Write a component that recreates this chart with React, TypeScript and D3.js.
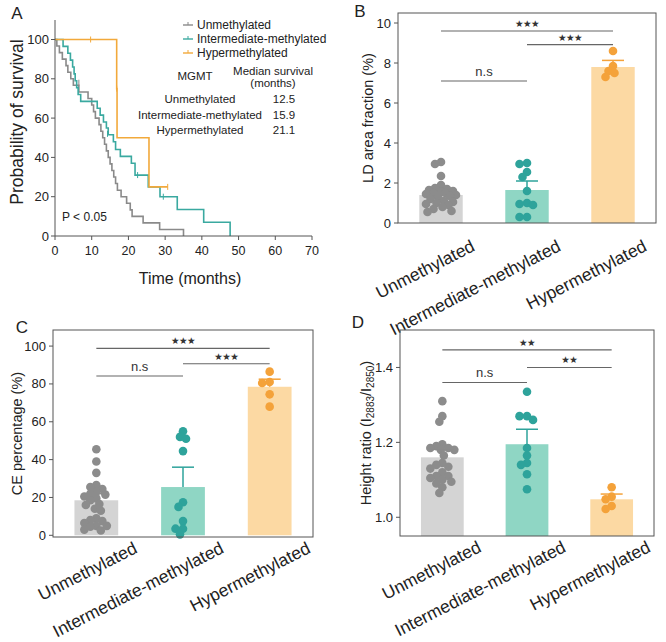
import React from 'react';
import * as d3 from 'd3';

const FONT = "'Liberation Sans', Arial, Helvetica, sans-serif";

// ---------- Panel A: Kaplan–Meier ----------
const kmTicksX = [0, 10, 20, 30, 40, 50, 60, 70];
const kmTicksY = [0, 20, 40, 60, 80, 100];

const unmethTimes = [0.5, 1.2, 2, 3, 3.5, 4.3, 5, 6.5, 9, 10, 10.5, 11, 12, 12.5, 13, 13.5, 14, 14.5, 15, 15.5, 16, 16.5, 17, 18, 19.5, 20.5, 21, 24, 28.5, 35];
const unmethSurv = [96.7, 93.3, 90, 86.7, 83.3, 80, 76.7, 73.3, 70, 66.7, 63.3, 60, 56.7, 53.3, 50, 46.7, 43.3, 40, 36.7, 33.3, 30, 26.7, 23.3, 20, 16.7, 13.3, 10, 6.7, 3.3, 0];
const unmethCensor = [[6.5, 78], [19.5, 18]];

const interTimes = [2.2, 3.5, 4.2, 4.8, 5.2, 5.5, 5.9, 6.3, 7.0, 11.5, 12.3, 13.2, 14.0, 14.5, 15.9, 16.5, 17.8, 20.8, 21.8, 25.4, 28.6, 33.3, 40.5, 47.7];
const interSurv = [96.5, 93, 89.5, 86, 82.5, 79, 75.5, 72, 68.5, 65, 61.5, 58, 55, 51.5, 48, 44, 40.5, 37, 31, 25, 20, 13.5, 7, 0];
const interCensor = [[14.3, 52], [22.5, 31], [29.5, 20]];

const hyperTimes = [16.8, 16.9, 25.6];
const hyperSurv = [75, 50, 25];
const hyperEnd = 30.7;
const hyperCensor = [[9.7, 100], [16.8, 75], [30.7, 25]];

const groupNames = ['Unmethylated', 'Intermediate-methylated', 'Hypermethylated'];
const medianSurvival = ['12.5', '15.9', '21.1'];

const kmColors = ['#8a8a8a', '#3aa9a0', '#f2a93b'];

// ---------- Panel B: LD area fraction ----------
const ldTicks = [0, 2, 4, 6, 8, 10];
const ldMeans = [1.4, 1.65, 7.8];
const ldSE = [0.12, 0.45, 0.33];
const ldUnmeth = [3.05, 2.95, 2.35, 1.9, 1.75, 1.7, 1.65, 1.6, 1.55, 1.5, 1.5, 1.45, 1.4, 1.35, 1.3, 1.2, 1.1, 1.05, 1.0, 0.95, 0.9, 0.8, 0.7, 0.6, 0.55];
const ldInter = [3.0, 2.95, 2.55, 2.3, 1.6, 1.0, 0.95, 0.9, 0.3, 0.3];
const ldHyper = [8.6, 7.85, 7.6, 7.5, 7.3];
const ldSig = [
  { a: 0, b: 2, y: 9.6, label: '★★★' },
  { a: 1, b: 2, y: 8.92, label: '★★★' },
  { a: 0, b: 1, y: 7.1, label: 'n.s' },
];

// ---------- Panel C: CE percentage ----------
const ceTicks = [0, 20, 40, 60, 80, 100];
const ceMeans = [18.5, 25.5, 78.5];
const ceSE = [3.5, 10.5, 4];
const ceUnmeth = [45.5, 39, 33, 26.5, 25.5, 24.5, 23, 22, 21.5, 20.5, 19.5, 18.5, 16.5, 16, 14, 13, 9, 8, 7.5, 6.5, 5, 5, 4.5, 3, 2.5];
const ceInter = [55, 52, 51, 44.5, 17.5, 15, 7.5, 3.5, 3.5, 0.5];
const ceHyper = [86.5, 81, 80.5, 74.5, 68];
const ceSig = [
  { a: 0, b: 2, y: 98.8, label: '★★★' },
  { a: 1, b: 2, y: 90.7, label: '★★★' },
  { a: 0, b: 1, y: 84.2, label: 'n.s' },
];

// ---------- Panel D: Height ratio ----------
const hrTicks = [1.0, 1.2, 1.4];
const hrMeans = [1.16, 1.195, 1.048];
const hrSE = [0.022, 0.04, 0.014];
const hrUnmeth = [1.31, 1.27, 1.255, 1.195, 1.19, 1.185, 1.185, 1.18, 1.18, 1.165, 1.145, 1.14, 1.135, 1.13, 1.12, 1.11, 1.11, 1.105, 1.1, 1.095, 1.09, 1.08, 1.065];
const hrInter = [1.335, 1.27, 1.27, 1.26, 1.185, 1.165, 1.145, 1.14, 1.115, 1.075];
const hrHyper = [1.08, 1.055, 1.048, 1.03, 1.022];
const hrSig = [
  { a: 0, b: 2, y: 1.447, label: '★★' },
  { a: 1, b: 2, y: 1.4, label: '★★' },
  { a: 0, b: 1, y: 1.36, label: 'n.s' },
];

const barFill = ['#d4d4d4', '#8fd6c4', '#fcd9a3'];
const dotFill = ['#8c8c8c', '#2ea39b', '#f4a23a'];
const axisColor = '#555';
const textColor = '#222';

function swarm(values: number[], y: (v: number) => number, cx: number, minDist: number, maxOff: number) {
  const order = values.map((_, i) => i).sort((a, b) => values[b] - values[a]);
  const placed: { x: number; y: number }[] = [];
  const out: { x: number; y: number }[] = new Array(values.length);
  const stepPx = 1.5;
  const nSteps = Math.ceil(maxOff / stepPx) * 2;
  for (const i of order) {
    const py = y(values[i]);
    let best = 0;
    let bestScore = -1;
    for (let k = 0; k <= nSteps; k++) {
      const off = (k % 2 === 0 ? 1 : -1) * Math.ceil(k / 2) * stepPx;
      let md = Infinity;
      for (const p of placed) md = Math.min(md, Math.hypot(p.x - (cx + off), p.y - py));
      if (md >= minDist) { best = off; bestScore = md; break; }
      if (md > bestScore) { bestScore = md; best = off; }
    }
    const pt = { x: cx + best, y: py };
    placed.push(pt);
    out[i] = pt;
  }
  return out;
}

function KMPanel() {
  const x = d3.scaleLinear().domain([0, 70]).range([55, 312]);
  const y = d3.scaleLinear().domain([0, 100]).range([236, 39.5]);
  const line = d3.line<[number, number]>().x(d => x(d[0])).y(d => y(d[1])).curve(d3.curveStepAfter);
  const series = [
    { t: unmethTimes, s: unmethSurv, end: unmethTimes[unmethTimes.length - 1], c: unmethCensor },
    { t: interTimes, s: interSurv, end: interTimes[interTimes.length - 1], c: interCensor },
    { t: hyperTimes, s: hyperSurv, end: hyperEnd, c: hyperCensor },
  ];
  return (
    <g>
      <text x={17} y={19} fontSize={17} fill={textColor} textAnchor="middle">A</text>
      {series.map((se, i) => {
        const pts: [number, number][] = [[0, 100]];
        se.t.forEach((t, j) => pts.push([t, se.s[j]]));
        if (se.end > se.t[se.t.length - 1]) pts.push([se.end, se.s[se.s.length - 1]]);
        return (
          <g key={i}>
            <path d={line(pts) || ''} fill="none" stroke={kmColors[i]} strokeWidth={1.6} />
            {se.c.map((c, k) => (
              <line key={k} x1={x(c[0])} x2={x(c[0])} y1={y(c[1]) - 3} y2={y(c[1]) + 3} stroke={kmColors[i]} strokeWidth={1} />
            ))}
          </g>
        );
      })}
      {/* axes */}
      <line x1={55} x2={55} y1={20} y2={236} stroke={axisColor} strokeWidth={1} />
      <line x1={55} x2={312} y1={236} y2={236} stroke={axisColor} strokeWidth={1} />
      {kmTicksY.map(t => (
        <g key={t}>
          <line x1={51} x2={55} y1={y(t)} y2={y(t)} stroke={axisColor} />
          <text x={49} y={y(t)} fontSize={13} fill={textColor} textAnchor="end" dominantBaseline="central">{t}</text>
        </g>
      ))}
      {kmTicksX.map(t => (
        <g key={t}>
          <line x1={x(t)} x2={x(t)} y1={236} y2={240} stroke={axisColor} />
          <text x={x(t)} y={251} fontSize={12.5} fill={textColor} textAnchor="middle" dominantBaseline="central">{t}</text>
        </g>
      ))}
      <text transform="translate(17,122) rotate(-90)" fontSize={17.5} fill={textColor} textAnchor="middle" dominantBaseline="central">Probability of survival</text>
      <text x={190} y={278} fontSize={16} fill={textColor} textAnchor="middle" dominantBaseline="central">Time (months)</text>
      {/* legend */}
      {groupNames.map((g, i) => (
        <g key={g}>
          <line x1={183} x2={193} y1={25 + i * 14} y2={25 + i * 14} stroke={kmColors[i]} strokeWidth={1.4} />
          <line x1={188} x2={188} y1={22 + i * 14} y2={25 + i * 14} stroke={kmColors[i]} strokeWidth={1} />
          <text x={197} y={25 + i * 14} fontSize={12} fill={textColor} dominantBaseline="central">{g}</text>
        </g>
      ))}
      <text x={195} y={76} fontSize={11.5} fill={textColor} textAnchor="middle" dominantBaseline="central">MGMT</text>
      <text x={273} y={71} fontSize={11.5} fill={textColor} textAnchor="middle" dominantBaseline="central">Median survival</text>
      <text x={273} y={83} fontSize={11.5} fill={textColor} textAnchor="middle" dominantBaseline="central">(months)</text>
      {groupNames.map((g, i) => (
        <g key={g}>
          <text x={200} y={99 + i * 15.5} fontSize={11.5} fill={textColor} textAnchor="middle" dominantBaseline="central">{g}</text>
          <text x={284} y={99 + i * 15.5} fontSize={11.5} fill={textColor} textAnchor="middle" dominantBaseline="central">{medianSurvival[i]}</text>
        </g>
      ))}
      <text x={62} y={217} fontSize={12} fill={textColor} dominantBaseline="central">P &lt; 0.05</text>
    </g>
  );
}

type Sig = { a: number; b: number; y: number; label: string };

function BarPanel(props: {
  left: number; right: number; top: number; bottom: number;
  domain: [number, number]; ticks: number[]; fmt: (v: number) => string;
  means: number[]; ses: number[]; points: number[][]; sig: Sig[];
  yLabel: React.ReactNode; yLabelX: number; letter: string; letterX: number; letterY: number;
  labDx: number; labDy: number;
}) {
  const { left, right, top, bottom, domain, ticks, fmt, means, ses, points, sig } = props;
  const x = d3.scalePoint<string>().domain(groupNames).range([left, right]).padding(0.5);
  const step = x.step();
  const bw = step * 0.505;
  const y = d3.scaleLinear().domain(domain).range([bottom, top]);
  const y0 = y(Math.max(0, domain[0]));
  return (
    <g>
      <text x={props.letterX} y={props.letterY} fontSize={17} fill={textColor} textAnchor="middle">{props.letter}</text>
      {groupNames.map((g, i) => {
        const cx = x(g) as number;
        return (
          <rect key={g} x={cx - bw / 2} width={bw} y={y(means[i])} height={(domain[0] > 0 ? bottom : y0) - y(means[i])} fill={barFill[i]} />
        );
      })}
      {groupNames.map((g, i) => {
        const cx = x(g) as number;
        const pts = swarm(points[i], y, cx, 6.2, 15);
        return (
          <g key={g}>
            {pts.map((p, k) => (
              <circle key={k} cx={p.x} cy={p.y} r={4.3} fill={dotFill[i]} />
            ))}
            <line x1={cx} x2={cx} y1={y(means[i])} y2={y(means[i] + ses[i])} stroke={dotFill[i]} strokeWidth={1.5} />
            <line x1={cx - 11} x2={cx + 11} y1={y(means[i] + ses[i])} y2={y(means[i] + ses[i])} stroke={dotFill[i]} strokeWidth={1.5} />
          </g>
        );
      })}
      {sig.map((s, k) => {
        const x1 = x(groupNames[s.a]) as number;
        const x2 = x(groupNames[s.b]) as number;
        const isStar = s.label !== 'n.s';
        return (
          <g key={k}>
            <line x1={x1} x2={x2} y1={y(s.y)} y2={y(s.y)} stroke="#666" strokeWidth={1.1} />
            <text x={(x1 + x2) / 2} y={y(s.y) - (isStar ? 4 : 5)} fontSize={isStar ? 9.5 : 13} fill="#333" textAnchor="middle"
              fontFamily={isStar ? "'DejaVu Sans', sans-serif" : FONT} letterSpacing={isStar ? -0.5 : 0}>{s.label}</text>
          </g>
        );
      })}
      {/* frame */}
      <rect x={left} y={top} width={right - left} height={bottom - top} fill="none" stroke={axisColor} strokeWidth={1} />
      {ticks.map(t => (
        <g key={t}>
          <line x1={left - 4} x2={left} y1={y(t)} y2={y(t)} stroke={axisColor} />
          <text x={left - 7} y={y(t)} fontSize={13} fill={textColor} textAnchor="end" dominantBaseline="central">{fmt(t)}</text>
        </g>
      ))}
      <text transform={`translate(${props.yLabelX},${(top + bottom) / 2}) rotate(-90)`} fontSize={14.5} fill={textColor} textAnchor="middle" dominantBaseline="central">{props.yLabel}</text>
      {groupNames.map((g) => {
        const cx = x(g) as number;
        return (
          <text key={g} transform={`translate(${cx + props.labDx},${bottom + props.labDy}) rotate(-27)`} fontSize={17.5} fill={textColor} textAnchor="end">{g}</text>
        );
      })}
    </g>
  );
}

export default function App() {
  return (
    <svg width={666} height={642} style={{ position: 'absolute', left: 0, top: 0, background: '#fff' }} fontFamily={FONT}>
      <rect x={0} y={0} width={666} height={642} fill="#fff" />
      <KMPanel />
      <BarPanel left={398} right={656} top={13} bottom={223} domain={[0, 10.5]} ticks={ldTicks} fmt={v => String(v)}
        means={ldMeans} ses={ldSE} points={[ldUnmeth, ldInter, ldHyper]} sig={ldSig}
        yLabel="LD area fraction (%)" yLabelX={368} letter="B" letterX={360} letterY={17}
        labDx={35} labDy={27} />
      <BarPanel left={53} right={313} top={330} bottom={537} domain={[-0.9, 108.5]} ticks={ceTicks} fmt={v => String(v)}
        means={ceMeans} ses={ceSE} points={[ceUnmeth, ceInter, ceHyper]} sig={ceSig}
        yLabel="CE percentage (%)" yLabelX={17} letter="C" letterX={22} letterY={333}
        labDx={42} labDy={15} />
      <BarPanel left={400} right={654} top={330} bottom={536} domain={[0.95, 1.5]} ticks={hrTicks} fmt={v => v.toFixed(1)}
        means={hrMeans} ses={hrSE} points={[hrUnmeth, hrInter, hrHyper]} sig={hrSig}
        yLabel={<>
          <tspan>Height ratio (I</tspan>
          <tspan fontSize={10} dy={4}>2883</tspan>
          <tspan dy={-4}>/I</tspan>
          <tspan fontSize={10} dy={4}>2850</tspan>
          <tspan dy={-4}>)</tspan>
        </>}
        yLabelX={366} letter="D" letterX={358} letterY={328}
        labDx={40} labDy={15} />
    </svg>
  );
}
